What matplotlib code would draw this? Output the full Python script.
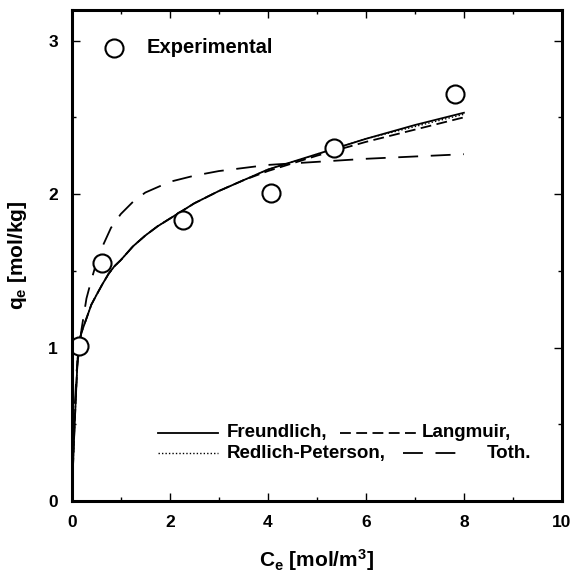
import matplotlib
matplotlib.use('Agg')
import matplotlib.pyplot as plt
from matplotlib.ticker import MultipleLocator

plt.rcParams['font.family'] = 'Liberation Sans'
plt.rcParams['font.weight'] = 'bold'
plt.rcParams['axes.labelweight'] = 'bold'
plt.rcParams['mathtext.fontset'] = 'custom'
plt.rcParams['mathtext.bf'] = 'Liberation Sans:bold'
plt.rcParams['mathtext.rm'] = 'Liberation Sans:bold'
plt.rcParams['mathtext.default'] = 'bf'

# measured equilibrium data
ce_exp = [0.14, 0.61, 2.27, 4.06, 5.35, 7.82]
qe_exp = [1.01, 1.55, 1.83, 2.01, 2.30, 2.65]

# fitted isotherms, sampled along Ce
ce_fit = [0, 0.04, 0.08, 0.12, 0.16, 0.2, 0.3, 0.4, 0.5, 0.62, 0.75, 0.87, 1, 1.25, 1.5,
          1.75, 2, 2.5, 3, 3.5, 4, 5, 6, 7, 8]
q_freundlich = [0, 0.35, 0.65, 0.93, 1.05, 1.10, 1.19, 1.28, 1.34, 1.41, 1.48, 1.53, 1.57,
                1.66, 1.73, 1.79, 1.84, 1.94, 2.02, 2.09, 2.16, 2.26, 2.36, 2.45, 2.53]
q_langmuir = [0, 0.36, 0.66, 0.93, 1.05, 1.10, 1.19, 1.28, 1.34, 1.41, 1.48, 1.53, 1.57,
              1.66, 1.73, 1.79, 1.84, 1.94, 2.02, 2.09, 2.15, 2.25, 2.34, 2.42, 2.50]
q_redlich = [0, 0.35, 0.65, 0.93, 1.05, 1.10, 1.19, 1.28, 1.34, 1.41, 1.48, 1.53, 1.57,
             1.66, 1.73, 1.79, 1.84, 1.94, 2.02, 2.09, 2.16, 2.26, 2.36, 2.44, 2.52]
ce_toth = [0, 0.05, 0.1, 0.2, 0.3, 0.4, 0.5, 0.6, 0.8, 1, 1.25, 1.5, 2, 2.5, 3, 4, 5, 6,
           7, 8]
q_toth = [0, 0.55, 0.85, 1.12, 1.32, 1.44, 1.55, 1.64, 1.78, 1.87, 1.95, 2.01, 2.08, 2.12,
          2.15, 2.19, 2.21, 2.23, 2.245, 2.26]

fit_styles = {
    'Freundlich,': dict(linestyle='-', linewidth=1.3),
    'Langmuir,': dict(linestyle=(0, (6, 3)), linewidth=1.3),
    'Redlich-Peterson,': dict(linestyle=(0, (1, 1.5)), linewidth=1.0),
    'Toth.': dict(linestyle=(0, (11, 7)), linewidth=1.3),
}


def main():
    fig = plt.figure(figsize=(5.74, 5.82), dpi=100)
    ax = fig.add_axes([0.125, 0.139, 0.854, 0.844])

    ax.plot(ce_fit, q_freundlich, color='black', **fit_styles['Freundlich,'])
    ax.plot(ce_fit, q_langmuir, color='black', **fit_styles['Langmuir,'])
    ax.plot(ce_fit, q_redlich, color='black', **fit_styles['Redlich-Peterson,'])
    ax.plot(ce_toth, q_toth, color='black', **fit_styles['Toth.'])
    ax.plot(ce_exp, qe_exp, 'o', markersize=13, markerfacecolor='white',
            markeredgecolor='black', markeredgewidth=1.5, linestyle='none')

    ax.set_xlim(0, 10)
    ax.set_ylim(0, 3.2)
    ax.xaxis.set_major_locator(MultipleLocator(2))
    ax.xaxis.set_minor_locator(MultipleLocator(1))
    ax.yaxis.set_major_locator(MultipleLocator(1))
    ax.yaxis.set_minor_locator(MultipleLocator(0.5))
    ax.tick_params(which='both', direction='in', top=True, right=True, width=1)
    ax.tick_params(which='major', length=6, labelsize=12.5, pad=10)
    ax.tick_params(which='minor', length=3)
    for side in ax.spines:
        ax.spines[side].set_linewidth(2.2)

    ax.set_xlabel(r'C$_{e}$ [mol/m$^{3}$]', fontsize=15, fontweight='bold', labelpad=12)
    ax.set_ylabel(r'q$_{e}$ [mol/kg]', fontsize=15, fontweight='bold', labelpad=14)

    # key for the experimental points
    tr = ax.transAxes
    ax.plot([0.0857], [0.9226], 'o', markersize=13, markerfacecolor='white',
            markeredgecolor='black', markeredgewidth=1.5, transform=tr, clip_on=False)
    ax.text(0.153, 0.9226, 'Experimental', transform=tr, fontsize=14.5, va='center')

    # key for the fitted models, two rows
    keys = [
        ('Freundlich,', 0.176, 0.298, 0.316, 0.139),
        ('Langmuir,', 0.547, 0.708, 0.714, 0.139),
        ('Redlich-Peterson,', 0.176, 0.298, 0.316, 0.097),
        ('Toth.', 0.676, 0.786, 0.847, 0.097),
    ]
    for name, x0, x1, xt, y in keys:
        ax.plot([x0, x1], [y, y], color='black', transform=tr, **fit_styles[name])
        ax.text(xt, y, name, transform=tr, fontsize=13.5, va='center')

    fig.savefig('out.png', dpi=100)
    plt.close(fig)


if __name__ == '__main__':
    main()
